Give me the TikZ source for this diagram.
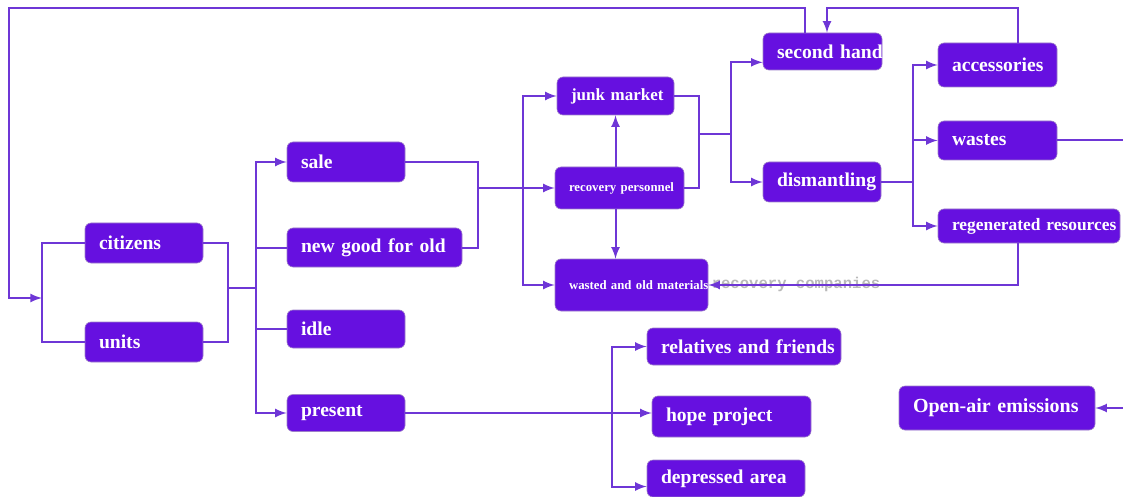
\documentclass[tikz,border=0pt]{standalone}
\usepackage{fontspec}
\setmainfont{Liberation Serif}
\newfontfamily\ghostfont{Liberation Mono}
\usepackage{tikz}
\usetikzlibrary{positioning,arrows}
\definecolor{boxfill}{RGB}{102,16,224}
\definecolor{linkcol}{RGB}{110,54,214}
\tikzstyle{stage}=[rectangle,rounded corners=3pt,fill=boxfill,draw=boxfill!50!gray!70,line width=0.3pt,
    text=white,font=\bfseries\fontsize{9.8}{11}\selectfont,align=left,inner xsep=7pt,inner ysep=0pt]
\tikzstyle{link}=[draw=linkcol,line width=1pt]
\tikzstyle{ghost}=[text=gray!55,font=\ghostfont\bfseries\fontsize{7.8}{9}\selectfont]
\def\smallfont{\bfseries\fontsize{6.4}{8}\selectfont}
\newcommand{\newStage}[4]{\node[stage,#3](#1) at (#4) {\mbox{#2}};}

\begin{document}
\begin{tikzpicture}[x=0.5pt,y=-0.5pt,>=latex]
    \useasboundingbox (0,0) rectangle (1123,497);
    % boxes
    \newStage{citizens}{citizens}{text width=45pt,minimum height=20pt}{144,243}
    \newStage{units}{units}{text width=45pt,minimum height=20pt}{144,342}
    \newStage{sale}{sale}{text width=45pt,minimum height=20pt}{346,162}
    \newStage{newgood}{new good for old}{text width=73.5pt,minimum height=19.5pt}{374.5,247.5}
    \newStage{idle}{idle}{text width=45pt,minimum height=19pt}{346,329}
    \newStage{present}{present}{text width=45pt,minimum height=18.5pt}{346,413}
    \newStage{junk}{junk market}{text width=44.5pt,minimum height=19pt,font=\bfseries\fontsize{8.5}{10}\selectfont}{615.5,96}
    \newStage{recovery}{recovery personnel}{text width=50.5pt,minimum height=21pt,font=\smallfont}{619.5,188}
    \newStage{wasted}{wasted and old materials}{text width=62.5pt,minimum height=26pt,font=\smallfont}{631.5,285}
    \newStage{secondhand}{second hand}{text width=45.5pt,minimum height=18.5pt}{822.5,51.5}
    \newStage{dismantling}{dismantling}{text width=45pt,minimum height=20pt}{822,182}
    \newStage{accessories}{accessories}{text width=45.5pt,minimum height=22pt}{997.5,65}
    \newStage{wastes}{wastes}{text width=45.5pt,minimum height=19.5pt}{997.5,140.5}
    \newStage{regen}{regenerated resources}{text width=77pt,minimum height=17pt,font=\bfseries\fontsize{8.7}{10}\selectfont}{1029,226}
    \newStage{relatives}{relatives and friends}{text width=83pt,minimum height=18.5pt}{744,346.5}
    \newStage{hope}{hope project}{text width=65.5pt,minimum height=20.5pt}{731.5,416.5}
    \newStage{depressed}{depressed area}{text width=65pt,minimum height=18.5pt}{726,478.5}
    \newStage{openair}{Open-air emissions}{text width=84pt,minimum height=22pt,font=\bfseries\fontsize{10}{12}\selectfont}{997,408}
    \node[ghost] (companies) at (796,284) {recovery companies};

    % junctions
    \coordinate (lb) at (42,298);
    \coordinate (rb) at (228,288);
    \coordinate (sb) at (256,288);
    \coordinate (mb) at (478,188);
    \coordinate (tb) at (523,188);
    \coordinate (jb) at (699,134);
    \coordinate (db) at (731,134);
    \coordinate (eb) at (913,182);
    \coordinate (pb) at (612,413);
    \coordinate (wout) at (1123,140.5);
    \coordinate (oin) at (1123,408);

    \draw[link,->] ([xshift=-8.75pt]secondhand.north) -- ++(0,-25) -| (9,298) -- (lb);
    \draw[link] (citizens.west) -| (lb) |- (units.west);
    \draw[link] (citizens.east) -| (rb) |- (units.east);
    \draw[link] (rb) -- (sb);
    \draw[link,->] (sb) |- (sale.west);
    \draw[link] (sb) |- (newgood.west);
    \draw[link] (sb) |- (idle.west);
    \draw[link,->] (sb) |- (present.west);
    \draw[link] (sale.east) -| (mb) |- (newgood.east);
    \draw[link] (mb) -- (tb);
    \draw[link,->] (tb) |- (junk.west);
    \draw[link,->] (tb) -- (recovery.west);
    \draw[link,->] (tb) |- (wasted.west);
    \draw[link,->] (recovery.north -| junk.south) -- (junk.south);
    \draw[link,->] (recovery.south -| junk.south) -- (wasted.north -| junk.south);
    \draw[link] (junk.east) -| (jb) |- (recovery.east);
    \draw[link] (jb) -- (db);
    \draw[link,->] (db) |- ([yshift=4pt]secondhand.south west);
    \draw[link,->] (db) |- (dismantling.west);
    \draw[link] (dismantling.east) -- (eb);
    \draw[link,->] (eb) |- (accessories.west);
    \draw[link,->] (eb) |- (wastes.west);
    \draw[link,->] (eb) |- (regen.west);
    \draw[link] (wastes.east) -- (wout);
    \draw[link,->] ([xshift=10.25pt]accessories.north) -- ++(0,-35) -| ([xshift=2.25pt]secondhand.north);
    \draw[link,->] ([xshift=-5.5pt]regen.south) |- (wasted.east);
    \draw[link,->] (present.east) -- (present.east -| hope.west);
    \draw[link,->] (pb) |- (relatives.west);
    \draw[link,->] (pb) |- ([yshift=-4pt]depressed.west);
    \draw[link,->] (oin) -- (openair.east);
\end{tikzpicture}
\end{document}
